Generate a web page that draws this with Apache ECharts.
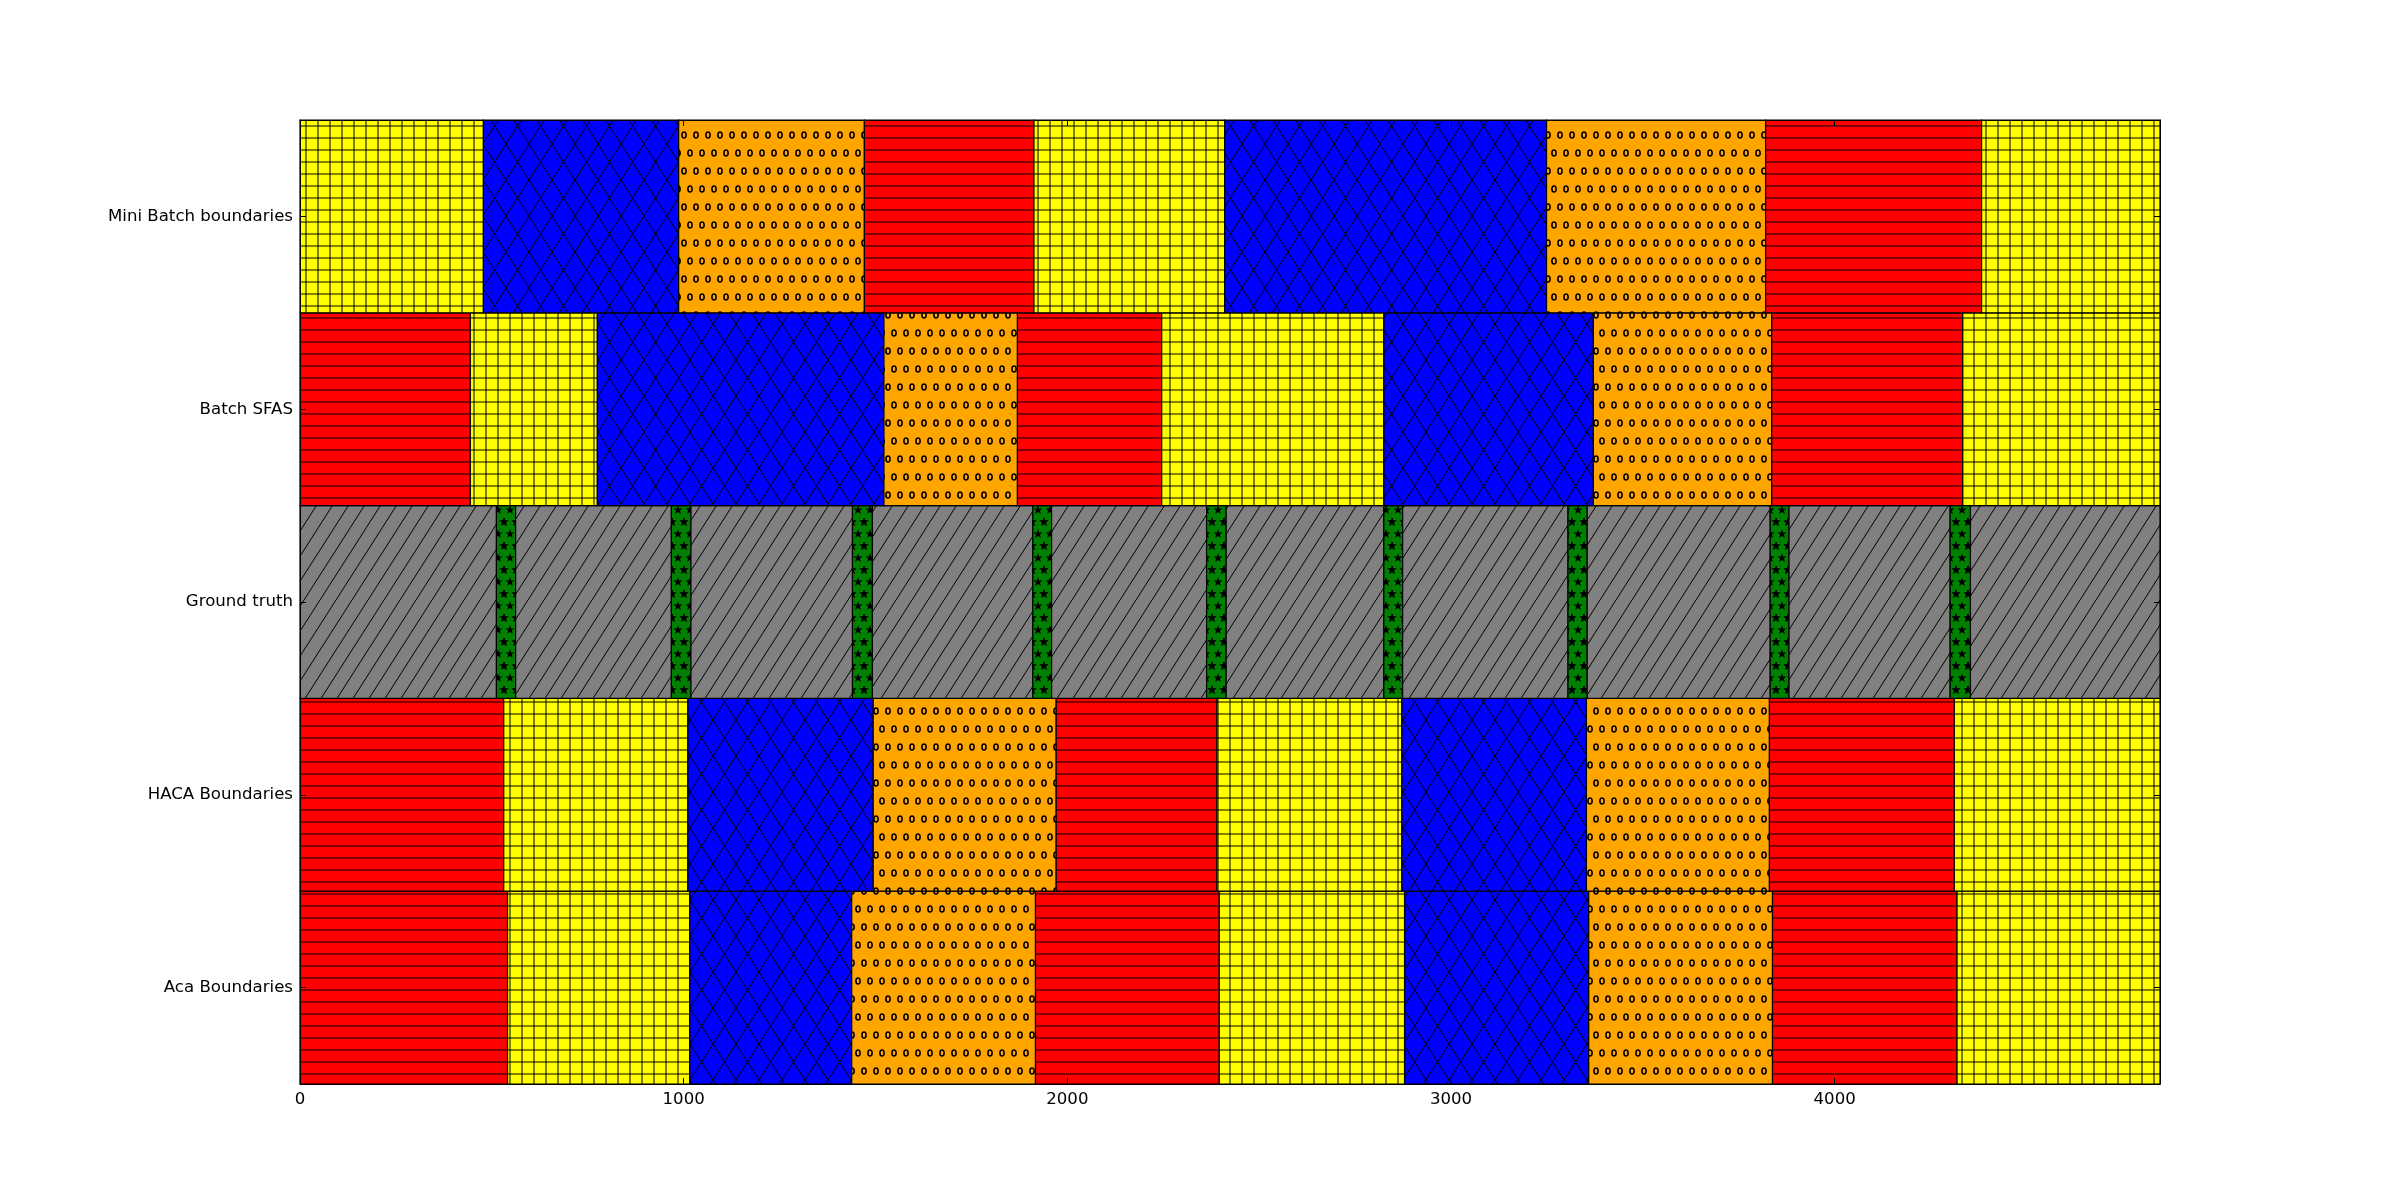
<!DOCTYPE html>
<html>
<head>
<meta charset="utf-8">
<style>
html,body{margin:0;padding:0;background:#fff;}
#c{width:2400px;height:1203px;}
</style>
<script src="https://cdn.jsdelivr.net/npm/echarts@6/dist/echarts.min.js"></script>
</head>
<body>
<div id="c"></div>
<script>
// ---- data ----
const categories = ['Aca Boundaries', 'HACA Boundaries', 'Ground truth', 'Batch SFAS', 'Mini Batch boundaries'];
const xTicks = [0, 1000, 2000, 3000, 4000];
const xMax = 4848;

const acaEdges  = [0, 541, 1016, 1438, 1917, 2396, 2879, 3359, 3838, 4319, 4848];
const acaKinds  = ['red', 'yellow', 'blue', 'orange', 'red', 'yellow', 'blue', 'orange', 'red', 'yellow'];

const hacaEdges = [0, 531, 1011, 1494, 1971, 2390, 2872, 3353, 3830, 4312, 4848];
const hacaKinds = ['red', 'yellow', 'blue', 'orange', 'red', 'yellow', 'blue', 'orange', 'red', 'yellow'];

const truthEdges = [0, 512, 562, 968, 1019, 1440, 1492, 1910, 1959, 2363, 2414, 2825, 2874, 3305, 3355, 3832, 3881, 4301, 4354, 4848];
const truthKinds = ['gray', 'green', 'gray', 'green', 'gray', 'green', 'gray', 'green', 'gray', 'green',
                    'gray', 'green', 'gray', 'green', 'gray', 'green', 'gray', 'green', 'gray'];

const sfasEdges = [0, 444, 775, 1522, 1870, 2246, 2825, 3371, 3836, 4334, 4848];
const sfasKinds = ['red', 'yellow', 'blue', 'orange', 'red', 'yellow', 'blue', 'orange', 'red', 'yellow'];

const miniEdges = [0, 478, 987, 1471, 1913, 2410, 3249, 3820, 4383, 4848];
const miniKinds = ['yellow', 'blue', 'orange', 'red', 'yellow', 'blue', 'orange', 'red', 'yellow'];

const rows = [
  [acaEdges, acaKinds],
  [hacaEdges, hacaKinds],
  [truthEdges, truthKinds],
  [sfasEdges, sfasKinds],
  [miniEdges, miniKinds]
];

// ---- hatch patterns (styling) ----
function tile(w, h, bg, draw) {
  const c = document.createElement('canvas');
  c.width = w; c.height = h;
  const g = c.getContext('2d');
  g.fillStyle = bg; g.fillRect(0, 0, w, h);
  g.strokeStyle = '#000'; g.fillStyle = '#000'; g.lineWidth = 1;
  draw(g, w, h);
  return c;
}
function ln(g, x0, y0, x1, y1) { g.beginPath(); g.moveTo(x0, y0); g.lineTo(x1, y1); g.stroke(); }
function star(g, cx, cy, ro, ri) {
  g.beginPath();
  for (let i = 0; i < 10; i++) {
    const r = i % 2 === 0 ? ro : ri;
    const a = -Math.PI / 2 + i * Math.PI / 5;
    const x = cx + r * Math.cos(a), y = cy + r * Math.sin(a);
    if (i === 0) g.moveTo(x, y); else g.lineTo(x, y);
  }
  g.closePath(); g.fill();
}
const tiles = {
  yellow: tile(12, 12, '#ffff00', g => { ln(g, 6, 0, 6, 12); ln(g, 0, 6, 12, 6); }),
  red: tile(12, 12, '#ff0000', g => { ln(g, 0, 6, 12, 6); }),
  blue: tile(23, 36, '#0000ff', (g, w, h) => {
    for (const dx of [-w, 0, w]) { ln(g, dx, 0, dx + w, h); ln(g, dx, h, dx + w, 0); }
  }),
  gray: tile(16, 25, '#808080', (g, w, h) => {
    for (const dx of [-w, 0, w]) { ln(g, dx, h, dx + w, 0); }
  }),
  orange: tile(12, 36, '#ffa500', g => {
    g.lineWidth = 1.6;
    const pts = [[6, 9], [0, 27], [12, 27]];
    for (const [x, y] of pts) { g.beginPath(); g.ellipse(x, y, 2.1, 3.0, 0, 0, Math.PI * 2); g.stroke(); }
  }),
  green: tile(12, 24, '#008000', g => {
    const pts = [[6, 6], [0, 18], [12, 18], [6, 30], [6, -6], [0, -6 + 24], [12, -6 + 24]];
    for (const [x, y] of pts) star(g, x, y, 4.8, 2.0);
  })
};
const kindIndex = ['red', 'yellow', 'blue', 'orange', 'gray', 'green'];
const patterns = kindIndex.map(k => ({ image: tiles[k], repeat: 'repeat' }));

// ---- build segments from the arrays ----
const segData = [];
rows.forEach(([edges, kinds], r) => {
  for (let i = 0; i < kinds.length; i++) {
    segData.push([edges[i], edges[i + 1], r, kindIndex.indexOf(kinds[i])]);
  }
});

const font = 'DejaVu Sans, Liberation Sans, sans-serif';
const chart = echarts.init(document.getElementById('c'), null, { renderer: 'canvas' });
chart.setOption({
  animation: false,
  backgroundColor: '#fff',
  grid: { left: 300, right: 240, top: 120, bottom: 119, show: false },
  xAxis: [{
    type: 'value', min: 0, max: xMax, interval: 1000, position: 'bottom', z: 5,
    axisLine: { show: true, onZero: false, lineStyle: { color: '#000', width: 1 } },
    axisTick: { show: true, inside: true, length: 6, lineStyle: { color: '#000', width: 1 } },
    axisLabel: { fontFamily: font, fontSize: 16.6, color: '#000', margin: 7, showMaxLabel: false,
      formatter: v => (xTicks.indexOf(v) >= 0 ? String(v) : '') },
    splitLine: { show: false }
  }, {
    type: 'value', min: 0, max: xMax, interval: 1000, position: 'top', z: 5,
    axisLine: { show: true, onZero: false, lineStyle: { color: '#000', width: 1 } },
    axisTick: { show: true, inside: true, length: 6, lineStyle: { color: '#000', width: 1 } },
    axisLabel: { show: false }, splitLine: { show: false }
  }],
  yAxis: [{
    type: 'category', data: categories, boundaryGap: true, position: 'left', z: 5,
    axisLine: { show: true, onZero: false, lineStyle: { color: '#000', width: 1 } },
    axisTick: { show: true, inside: true, alignWithLabel: true, length: 6, lineStyle: { color: '#000' } },
    axisLabel: { fontFamily: font, fontSize: 16.6, color: '#000', margin: 7, padding: [4, 0, 0, 0] },
    splitLine: { show: false }
  }, {
    type: 'category', data: categories, boundaryGap: true, position: 'right', z: 5,
    axisLine: { show: true, onZero: false, lineStyle: { color: '#000', width: 1 } },
    axisTick: { show: true, inside: true, alignWithLabel: true, length: 6, lineStyle: { color: '#000' } },
    axisLabel: { show: false }, splitLine: { show: false }
  }],
  series: [{
    type: 'custom',
    xAxisIndex: 0, yAxisIndex: 0,
    encode: { x: [0, 1], y: 2 },
    data: segData,
    renderItem: function (params, api) {
      const s = api.value(0), e = api.value(1), r = api.value(2), k = api.value(3);
      const a = api.coord([s, r]);
      const b = api.coord([e, r]);
      const h = api.size([0, 1])[1];
      return {
        type: 'rect',
        shape: { x: a[0], y: a[1] - h / 2, width: b[0] - a[0], height: h },
        style: { fill: patterns[k], stroke: '#000', lineWidth: 1.2 }
      };
    }
  }]
});
</script>
</body>
</html>
